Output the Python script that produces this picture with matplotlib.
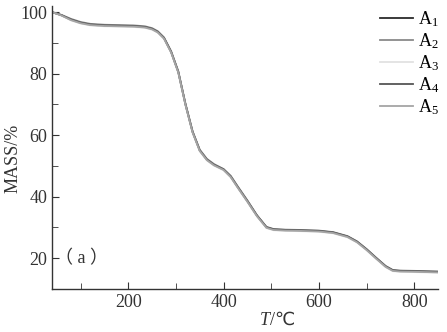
import matplotlib
matplotlib.use("Agg")
import matplotlib.pyplot as plt
from matplotlib.ticker import MultipleLocator

plt.rcParams['font.family'] = ['Liberation Serif', 'Noto Sans CJK SC', 'DejaVu Sans']
plt.rcParams['mathtext.fontset'] = 'custom'
plt.rcParams['mathtext.rm'] = 'Liberation Serif'
plt.rcParams['mathtext.it'] = 'Liberation Serif:italic'

temps = [40, 60, 80, 100, 120, 150, 180, 210, 235, 250, 262, 275, 290, 305, 320,
         335, 350, 365, 380, 400, 415, 430, 450, 470, 490, 505, 530, 560, 600,
         630, 660, 680, 700, 720, 740, 755, 770, 800, 850]

a1 = [100.0, 99.0, 97.5, 96.5, 95.9, 95.6, 95.5, 95.4, 95.1, 94.5, 93.5, 91.5, 87.0,
      80.5, 70.0, 61.0, 55.0, 52.0, 50.3, 48.8, 46.5, 43.0, 38.5, 33.8, 30.0, 29.3,
      29.1, 29.0, 28.8, 28.3, 27.0, 25.3, 22.8, 20.0, 17.3, 16.0, 15.8, 15.7, 15.5]
a2 = [100.0, 99.1, 97.8, 96.8, 96.2, 95.9, 95.8, 95.7, 95.4, 94.8, 93.8, 91.8, 87.3,
      80.8, 70.3, 61.3, 55.3, 52.3, 50.6, 49.0, 46.8, 43.3, 38.8, 34.0, 30.2, 29.5,
      29.3, 29.2, 29.0, 28.5, 27.2, 25.5, 23.0, 20.2, 17.5, 16.2, 16.0, 15.9, 15.7]
a3 = [100.0, 98.9, 97.3, 96.3, 95.7, 95.4, 95.3, 95.2, 94.9, 94.3, 93.3, 91.3, 86.8,
      80.3, 69.8, 60.8, 54.8, 51.8, 50.1, 48.6, 46.3, 42.8, 38.3, 33.6, 29.8, 29.1,
      28.9, 28.8, 28.6, 28.1, 26.8, 25.1, 22.6, 19.8, 17.1, 15.8, 15.6, 15.5, 15.3]
a4 = [100.0, 99.0, 97.6, 96.6, 96.0, 95.7, 95.6, 95.5, 95.2, 94.6, 93.6, 91.6, 87.1,
      80.6, 70.1, 61.1, 55.1, 52.1, 50.4, 48.9, 46.6, 43.1, 38.6, 33.9, 30.1, 29.4,
      29.2, 29.1, 28.9, 28.4, 27.1, 25.4, 22.9, 20.1, 17.4, 16.1, 15.9, 15.8, 15.6]
a5 = [100.0, 98.9, 97.4, 96.4, 95.8, 95.5, 95.4, 95.3, 95.0, 94.4, 93.4, 91.4, 86.9,
      80.4, 69.9, 60.9, 54.9, 51.9, 50.2, 48.7, 46.4, 42.9, 38.4, 33.7, 29.9, 29.2,
      29.0, 28.9, 28.7, 28.2, 26.9, 25.2, 22.7, 19.9, 17.2, 15.9, 15.7, 15.6, 15.4]

series = [a1, a2, a3, a4, a5]
labels = ['A$_1$', 'A$_2$', 'A$_3$', 'A$_4$', 'A$_5$']
colors = ['#2b2b2b', '#8a8a8a', '#e2e2e2', '#555555', '#a5a5a5']

fig = plt.figure(figsize=(4.47, 3.32), dpi=100)
ax = fig.add_axes([0.1163, 0.1295, 0.8637, 0.8525])

for vals, lab, col in zip(series, labels, colors):
    ax.plot(temps, vals, color=col, lw=1.3, label=lab)

ax.set_xlim(40, 850)
ax.set_ylim(10, 102)
ax.xaxis.set_major_locator(MultipleLocator(200))
ax.xaxis.set_minor_locator(MultipleLocator(100))
ax.yaxis.set_major_locator(MultipleLocator(20))
ax.yaxis.set_minor_locator(MultipleLocator(10))
ax.spines['top'].set_visible(False)
ax.spines['right'].set_visible(False)
for s in ['left', 'bottom']:
    ax.spines[s].set_color('#333333')
    ax.spines[s].set_linewidth(1.0)
ax.tick_params(which='both', direction='in', colors='#333333', labelsize=13)
ax.tick_params(which='major', length=5)
ax.tick_params(which='minor', length=4)

# x label: italic T followed by /℃
ax.text(0.565, -0.11, 'T', transform=ax.transAxes, fontsize=13, style='italic',
        ha='right', va='center', color='#333333')
ax.text(0.565, -0.11, '/℃', transform=ax.transAxes, fontsize=13,
        family=['Liberation Serif', 'DejaVu Sans'], ha='left', va='center', color='#333333')
ax.set_ylabel('MASS/%', fontsize=13, color='#333333')
ax.yaxis.set_label_coords(-0.08, 0.46)

ax.text(46, 20, '（ a ）', fontsize=13, va='center', ha='left', color='#333333')

leg = ax.legend(loc='upper right', bbox_to_anchor=(1.045, 1.045), frameon=False,
                fontsize=13, handlelength=1.8, handletextpad=0.3, labelspacing=0.12)

fig.savefig('out.png', dpi=100)
